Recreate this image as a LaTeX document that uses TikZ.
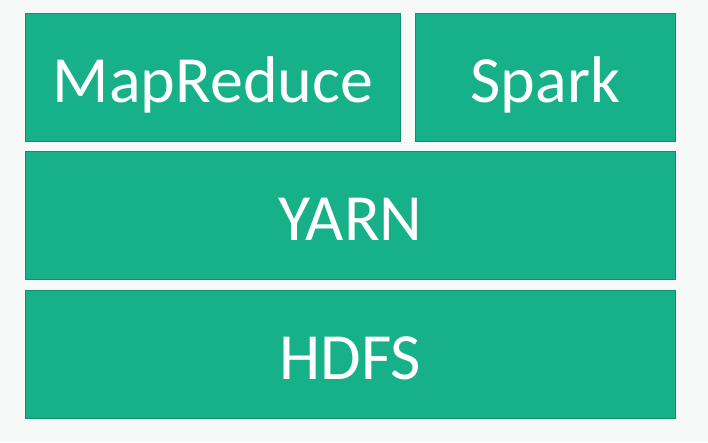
\documentclass[tikz,border=0pt]{standalone}
\usepackage{fontspec}
\setmainfont{Carlito}
\definecolor{layerfill}{HTML}{16B189}
\definecolor{layeredge}{HTML}{108F6F}
\definecolor{pagebg}{HTML}{F7F8F8}
\tikzset{
  layerbox/.style={draw=layeredge, line width=1pt, fill=layerfill, text=white,
    inner sep=0pt, text height=49pt, text depth=0pt,
    font=\fontsize{66}{66}\selectfont, anchor=north west}
}
\begin{document}
\begin{tikzpicture}[x=1pt,y=-1pt]
\fill[pagebg] (0,0) rectangle (708,442);
\useasboundingbox (0,0) rectangle (708,442);
\node[layerbox, minimum width=375pt, minimum height=128pt] (mapreduce) at (25,13) {MapReduce};
\node[layerbox, minimum width=260pt, minimum height=128pt] (spark) at (415,13) {Spark};
\node[layerbox, minimum width=650pt, minimum height=128pt] (yarn) at (25,151) {YARN};
\node[layerbox, minimum width=650pt, minimum height=128pt] (hdfs) at (25,290) {HDFS};
\end{tikzpicture}
\end{document}
